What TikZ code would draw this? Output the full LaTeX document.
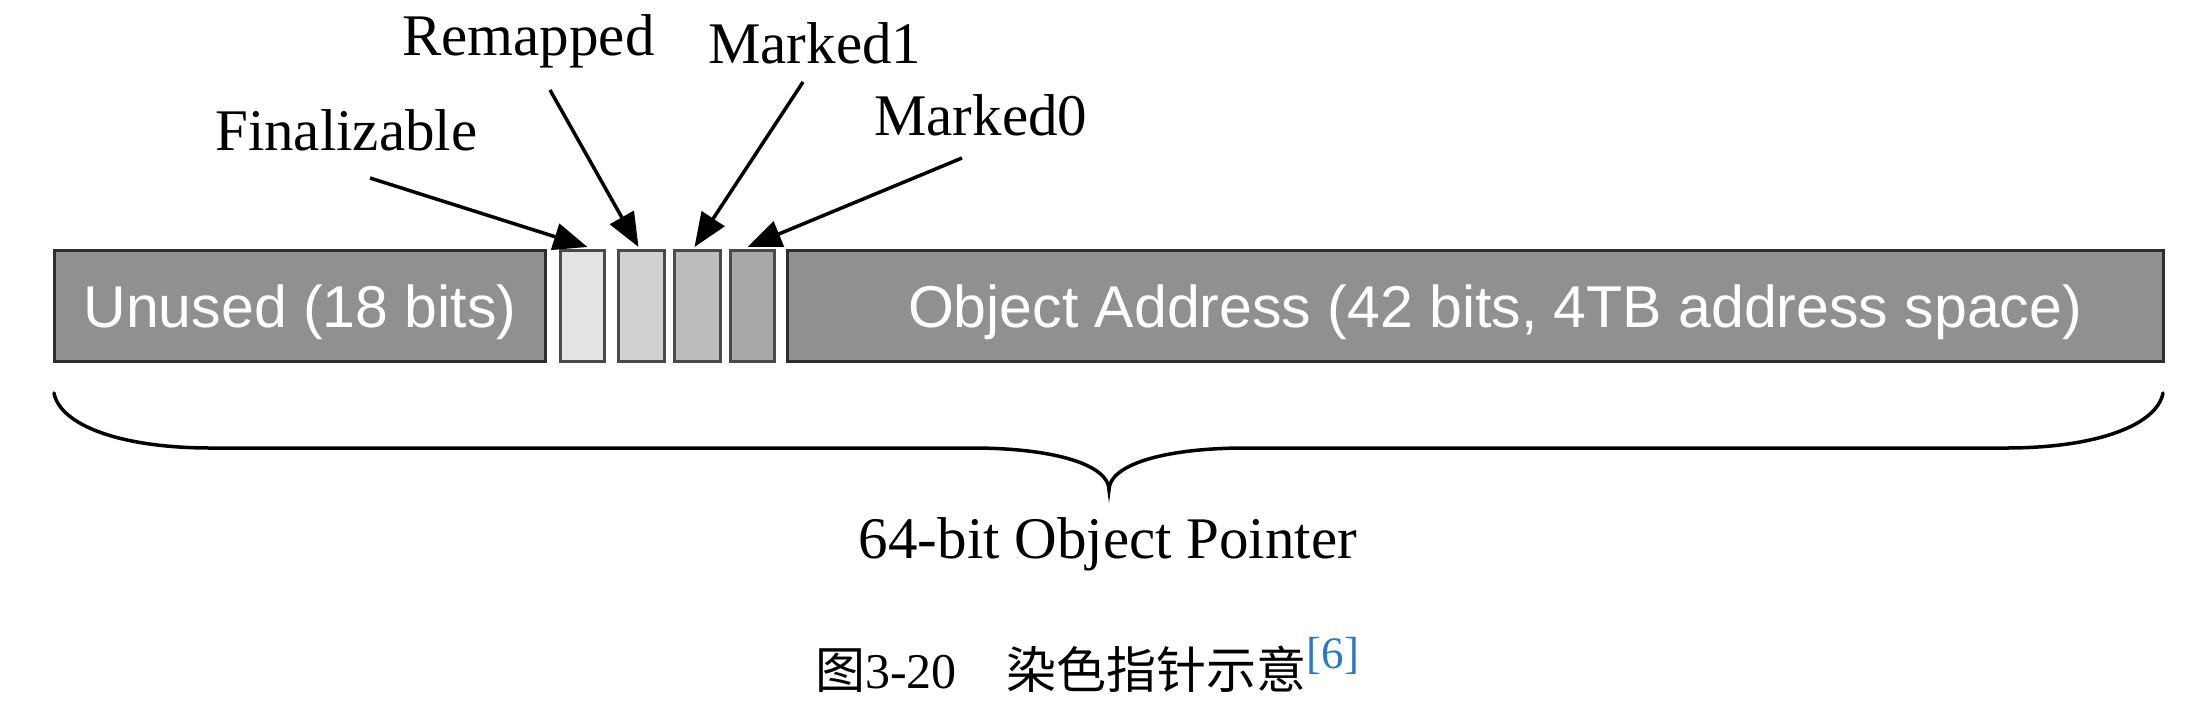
\documentclass[tikz,border=0pt]{standalone}
\usepackage{fontspec}
\setmainfont{Liberation Serif}
\setsansfont{Liberation Sans}
\newfontfamily\cjk{Noto Sans CJK SC}
\usetikzlibrary{arrows.meta,calc}
\definecolor{barfill}{HTML}{8E9092}
\definecolor{bitA}{HTML}{E3E3E3}
\definecolor{bitB}{HTML}{D0D1D2}
\definecolor{bitC}{HTML}{BABCBE}
\definecolor{bitD}{HTML}{A6A8AA}
\definecolor{edge}{HTML}{2E2E2E}
\definecolor{bitedge}{HTML}{4A4A4A}
\definecolor{capblue}{HTML}{2B78C8}
\begin{document}
\begin{tikzpicture}[x=1pt,y=-1pt,
  field/.style={draw=edge,line width=3pt,fill=barfill,inner sep=0pt,minimum height=111pt},
  bitbox/.style={draw=bitedge,line width=3pt,inner sep=0pt,minimum height=111pt},
  fieldtext/.style={font=\sffamily\fontsize{59}{59}\selectfont,text=white,anchor=base,inner sep=0pt},
  flag/.style={font=\fontsize{59}{59}\selectfont,anchor=base west,inner sep=0pt},
  pointer/.style={line width=3.5pt,-{Triangle[length=34pt,width=27pt]}},
  bracepath/.style={line width=3.5pt,line cap=round},
]
\useasboundingbox (0,0) rectangle (2210,716);

% fields
\node[field,minimum width=491pt] (unused) at (300,306) {};
\node[bitbox,fill=bitA,minimum width=44pt] (b1) at (582.5,306) {};
\node[bitbox,fill=bitB,minimum width=46pt] (b2) at (641.5,306) {};
\node[bitbox,fill=bitC,minimum width=46pt] (b3) at (697.5,306) {};
\node[bitbox,fill=bitD,minimum width=44pt] (b4) at (752.5,306) {};
\node[field,minimum width=1376pt] (addr) at (1475.5,306) {};

\node[fieldtext] (unusedtext) at (300,327) {Unused (18 bits)};
\node[fieldtext] (addrtext) at (1495,327) {Object Address (42 bits, 4TB address space)};

% flag labels
\node[flag] (fin) at (215,150) {Finalizable};
\node[flag] (rem) at (402,55) {Remapped};
\node[flag] (mk1) at (708,63) {Marked1};
\node[flag] (mk0) at (874,135) {Marked0};

\coordinate (finT) at (370,178);
\coordinate (remT) at (550,90);
\coordinate (mk1T) at (803,82);
\coordinate (mk0T) at (962,158);

\draw[pointer] (finT) -- ([xshift=5pt,yshift=2pt]b1.north);
\draw[pointer] (remT) -- ([xshift=-3pt,yshift=2pt]b2.north);
\draw[pointer] (mk1T) -- ([xshift=-3pt,yshift=2pt]b3.north);
\draw[pointer] (mk0T) -- ([xshift=-5pt,yshift=2pt]b4.north);

% brace
\draw[bracepath] (54,393) .. controls (60,425) and (120,448) .. (211,448)
  -- (972,448) .. controls (1055,448) and (1109,465) .. (1109,490)
  .. controls (1109,465) and (1163,448) .. (1246,448)
  -- (2006,448) .. controls (2097,448) and (2157,425) .. (2163,393);

\node[anchor=base,inner sep=0pt,font=\fontsize{59}{59}\selectfont] (ptr) at (1108,558) {64-bit Object Pointer};

% caption
\node[anchor=base west,inner sep=0pt,font=\fontsize{50}{50}\selectfont] (caption) at (815,688)
  {{\cjk 图}3-20{\cjk 　染色指针示意}\raisebox{20pt}{\fontsize{45}{45}\selectfont\color{capblue}[6]}};
\end{tikzpicture}
\end{document}
